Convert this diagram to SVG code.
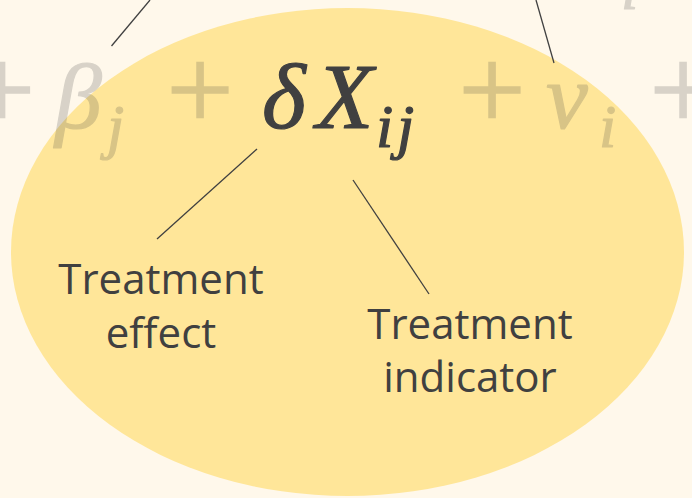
<svg xmlns="http://www.w3.org/2000/svg" width="692" height="498" viewBox="0 0 692 498">
<style>
.bg{fill:#FFF8EB}
.blob{fill:#FFE699}
.math{font-family:"Liberation Serif","Times New Roman",serif;font-style:italic;fill:#404040;stroke:#404040;stroke-width:1.2;stroke-linejoin:round}
.big{font-size:94px}
.sub{font-size:62px}
.plus{font-family:"Liberation Serif","Times New Roman",serif;font-style:normal;font-size:119px;fill:#404040;stroke:#404040;stroke-width:1.6}
.faded{opacity:0.2}
.lbl{font-family:"Open Sans","Noto Sans","Liberation Sans",sans-serif;font-size:42px;fill:#404040;text-anchor:middle}
.conn line{stroke:#404040;stroke-width:1.3;fill:none}
</style>
<rect class="bg" x="0" y="0" width="692" height="498"/>
<g id="ellipse">
<ellipse class="blob" cx="347.5" cy="252" rx="336.5" ry="244"/>
</g>
<g id="faded-equation" class="faded">
<text class="math sub" x="621" y="9">i</text>
<text class="plus" x="-32" y="130">+</text>
<text class="math big" x="55" y="128">β</text>
<text class="math sub" x="107" y="147">j</text>
<text class="plus" x="166.5" y="130">+</text>
<text class="plus" x="458.5" y="130">+</text>
<text class="math big" x="546" y="128">ν</text>
<text class="math sub" x="599" y="147">i</text>
<text class="plus" x="649.5" y="130">+</text>
</g>
<g id="term">
<text class="math big" x="262" y="128">δ</text>
<text class="math big" x="316" y="128">X</text>
<text class="math sub" x="376" y="147">i</text>
<text class="math sub" x="397" y="147">j</text>
</g>
<g id="connectors" class="conn">
<line x1="150" y1="0" x2="111.5" y2="46"/>
<line x1="536" y1="0" x2="554" y2="63"/>
<line x1="257" y1="149" x2="157" y2="239"/>
<line x1="353" y1="180" x2="429" y2="294"/>
</g>
<g id="label-effect">
<text class="lbl" x="161" y="294">Treatment</text>
<text class="lbl" x="161" y="348">effect</text>
</g>
<g id="label-indicator">
<text class="lbl" x="470" y="339">Treatment</text>
<text class="lbl" x="470" y="392">indicator</text>
</g>
</svg>
